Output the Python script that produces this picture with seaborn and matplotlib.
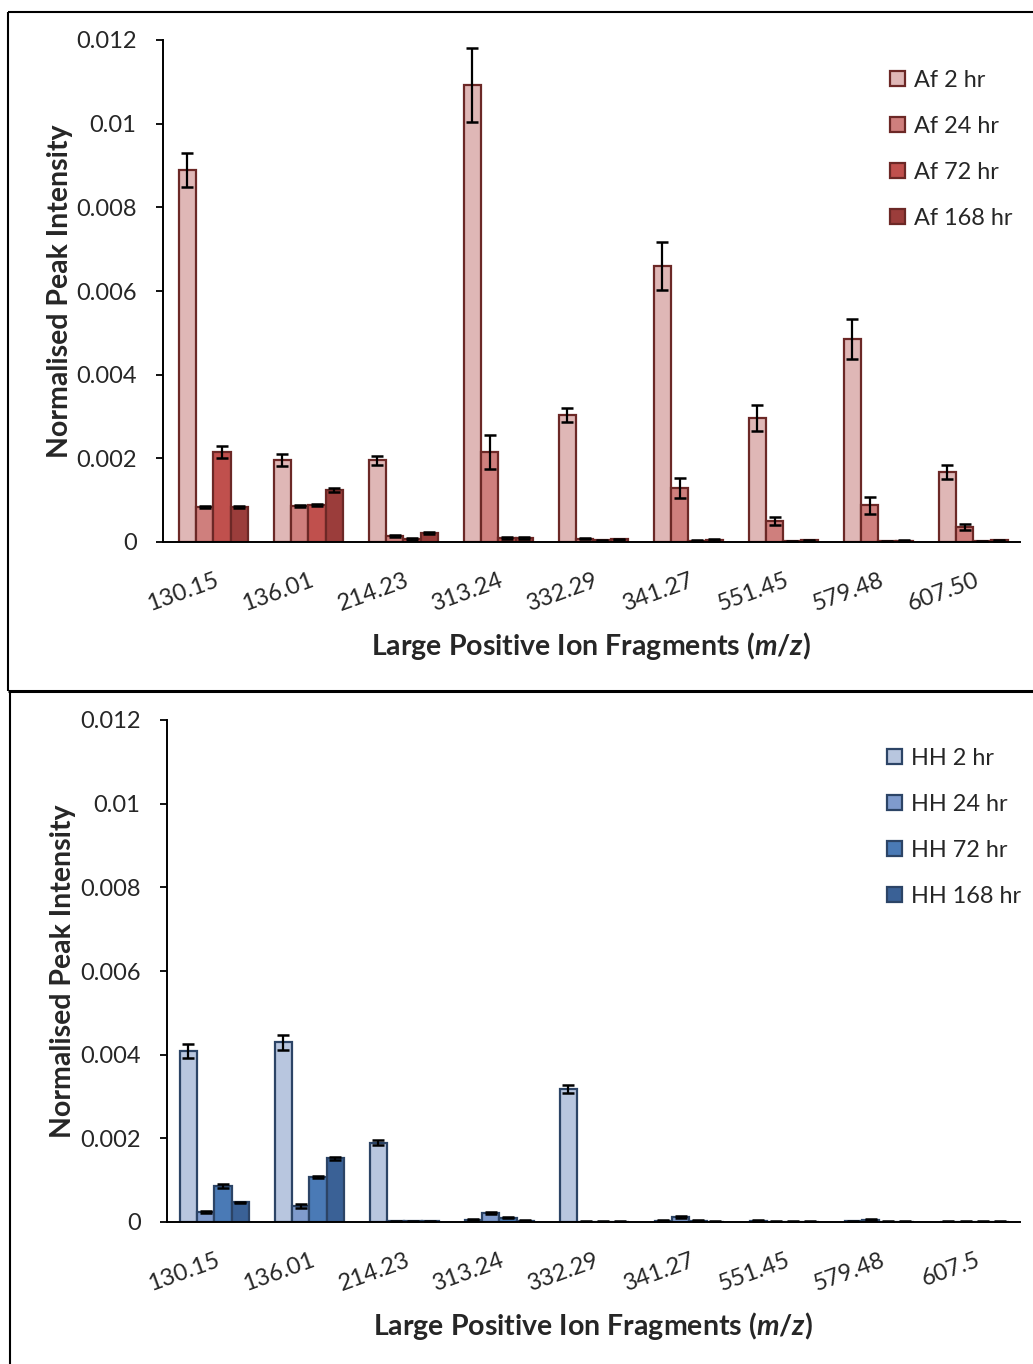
import matplotlib
matplotlib.use("Agg")
import matplotlib.pyplot as plt
from matplotlib.lines import Line2D
from matplotlib.transforms import ScaledTranslation
import numpy as np
import pandas as pd
import seaborn as sns

# ---- data -------------------------------------------------------------
fragments_af = ["130.15", "136.01", "214.23", "313.24", "332.29",
                "341.27", "551.45", "579.48", "607.50"]
fragments_hh = ["130.15", "136.01", "214.23", "313.24", "332.29",
                "341.27", "551.45", "579.48", "607.5"]

af_series = ["Af 2 hr", "Af 24 hr", "Af 72 hr", "Af 168 hr"]
hh_series = ["HH 2 hr", "HH 24 hr", "HH 72 hr", "HH 168 hr"]

af_2hr = [0.00889, 0.00196, 0.00195, 0.01092, 0.00303, 0.00660, 0.00296, 0.00485, 0.00167]
af_24hr = [0.00084, 0.00086, 0.00014, 0.00215, 0.00008, 0.00129, 0.00050, 0.00088, 0.00036]
af_72hr = [0.00215, 0.00088, 0.00007, 0.00010, 0.00004, 0.00003, 0.00002, 0.00002, 0.00002]
af_168hr = [0.00084, 0.00124, 0.00022, 0.00010, 0.00006, 0.00005, 0.00004, 0.00003, 0.00004]

af_2hr_err = [0.00040, 0.00015, 0.00010, 0.00088, 0.00017, 0.00057, 0.00031, 0.00048, 0.00016]
af_24hr_err = [0.00003, 0.00002, 0.00002, 0.00040, 0.00002, 0.00023, 0.00010, 0.00020, 0.00007]
af_72hr_err = [0.00015, 0.00002, 0.00002, 0.00002, 0.00001, 0.00001, 0.00001, 0.00001, 0.00001]
af_168hr_err = [0.00003, 0.00004, 0.00003, 0.00002, 0.00002, 0.00002, 0.00001, 0.00001, 0.00001]

hh_2hr = [0.00409, 0.00430, 0.00189, 0.00005, 0.00318, 0.00003, 0.00003, 0.00002, 0.00001]
hh_24hr = [0.00024, 0.00038, 0.00002, 0.00022, 0.00001, 0.00012, 0.00001, 0.00005, 0.00001]
hh_72hr = [0.00086, 0.00108, 0.00002, 0.00010, 0.00001, 0.00003, 0.00001, 0.00001, 0.00001]
hh_168hr = [0.00047, 0.00152, 0.00002, 0.00003, 0.00001, 0.00001, 0.00001, 0.00001, 0.00001]

hh_2hr_err = [0.00016, 0.00018, 0.00006, 0.00001, 0.00010, 0.00001, 0.00001, 0.00001, 0.00001]
hh_24hr_err = [0.00002, 0.00004, 0.00001, 0.00003, 0.00001, 0.00002, 0.00001, 0.00001, 0.00001]
hh_72hr_err = [0.00004, 0.00002, 0.00001, 0.00001, 0.00001, 0.00001, 0.00001, 0.00001, 0.00001]
hh_168hr_err = [0.00002, 0.00003, 0.00001, 0.00001, 0.00001, 0.00001, 0.00001, 0.00001, 0.00001]

y_ticks = [0, 0.002, 0.004, 0.006, 0.008, 0.010, 0.012]
y_tick_labels = ["0", "0.002", "0.004", "0.006", "0.008", "0.01", "0.012"]

af_colors = ["#dfb7b6", "#cf7f7d", "#c0504d", "#9b3d3b"]
hh_colors = ["#b8c6df", "#7f9bcd", "#4a7ab6", "#3a6196"]
af_edge = "#6c2826"
hh_edge = "#2c4466"

# ---- style ------------------------------------------------------------
sns.set_theme(style="white")
plt.rcParams["font.family"] = ["Lato", "DejaVu Sans"]
plt.rcParams["mathtext.fontset"] = "custom"
plt.rcParams["mathtext.it"] = "Lato:italic:bold"
plt.rcParams["mathtext.rm"] = "Lato:bold"
plt.rcParams["mathtext.bf"] = "Lato:bold"

TICK_FS = 17
LEG_FS = 16.9
LABEL_FS = 20.5
fig = plt.figure(figsize=(10.33, 13.64), dpi=100)
W, H = 1033.0, 1364.0


def px_axes(left, top, right, bottom):
    return fig.add_axes([left / W, 1 - bottom / H, (right - left) / W, (bottom - top) / H])


def panel(ax, fragments, series, values, errors, colors, edge, xlim,
          ylabel_x, legend_xy):
    frames = []
    for name, vals in zip(series, values):
        frames.append(pd.DataFrame({"fragment": fragments, "series": name, "value": vals}))
    df = pd.concat(frames, ignore_index=True)

    sns.barplot(data=df, x="fragment", y="value", hue="series",
                hue_order=series, order=fragments, palette=colors,
                saturation=1, width=0.73, gap=0, errorbar=None,
                edgecolor=edge, linewidth=1.6, ax=ax)

    # error bars on each bar, per series
    for cont, err in zip(ax.containers, errors):
        xs = [p.get_x() + p.get_width() / 2 for p in cont.patches]
        hs = [p.get_height() for p in cont.patches]
        ax.errorbar(xs, hs, yerr=err, fmt="none", ecolor="black",
                    elinewidth=1.6, capsize=4.5, capthick=1.8, zorder=5)

    ax.set_xlim(*xlim)
    ax.set_ylim(0, 0.012)
    ax.set_yticks(y_ticks)
    ax.set_yticklabels(y_tick_labels)
    ax.tick_params(axis="y", which="major", left=True, length=5, width=1.3,
                   direction="out", pad=14, labelsize=TICK_FS, color="black")
    ax.tick_params(axis="x", bottom=False, length=0, pad=20, labelsize=TICK_FS)
    for lab in ax.get_xticklabels():
        lab.set_rotation(20)
        lab.set_ha("right")
        lab.set_va("top")
        lab.set_rotation_mode("anchor")
        lab.set_transform(lab.get_transform() +
                          ScaledTranslation(1 / 100, 0, fig.dpi_scale_trans))

    for side in ("top", "right"):
        ax.spines[side].set_visible(False)
    for side in ("left", "bottom"):
        ax.spines[side].set_color("black")
        ax.spines[side].set_linewidth(1.4)

    ax.set_xlabel("Large Positive Ion Fragments ($\\mathit{m/z}$)",
                  fontsize=LABEL_FS, fontweight="bold")
    ax.xaxis.set_label_coords(0.5, -0.176)
    ax.xaxis.label.set_va("top")
    ax.set_ylabel("Normalised Peak Intensity", fontsize=LABEL_FS, fontweight="bold")
    ax.yaxis.set_label_coords(ylabel_x, 0.5)

    handles, labels = ax.get_legend_handles_labels()
    if ax.get_legend() is not None:
        ax.get_legend().remove()
    fig.legend(handles, labels, loc="upper left",
               bbox_to_anchor=(legend_xy[0] / W, 1 - legend_xy[1] / H),
               frameon=False, fontsize=LEG_FS, handlelength=0.63, handleheight=0.63,
               handletextpad=0.4, labelspacing=1.06, borderpad=0,
               borderaxespad=0)


ax_top = px_axes(163, 40, 1020, 542)
panel(ax_top, fragments_af, af_series,
      [af_2hr, af_24hr, af_72hr, af_168hr],
      [af_2hr_err, af_24hr_err, af_72hr_err, af_168hr_err],
      af_colors, af_edge, (-0.53, 8.49), -0.105, (890, 70))

ax_bot = px_axes(167, 720, 1020, 1222)
panel(ax_bot, fragments_hh, hh_series,
      [hh_2hr, hh_24hr, hh_72hr, hh_168hr],
      [hh_2hr_err, hh_24hr_err, hh_72hr_err, hh_168hr_err],
      hh_colors, hh_edge, (-0.5, 8.48), -0.107, (887, 748))

# ---- panel frames -----------------------------------------------------
def fline(x0, y0, x1, y1, lw):
    fig.add_artist(Line2D([x0 / W, x1 / W], [1 - y0 / H, 1 - y1 / H],
                          transform=fig.transFigure, color="black", lw=lw,
                          solid_capstyle="butt"))


fline(8, 12, 1033, 12, 1.5)
fline(8, 12, 8, 691, 1.5)
fline(8, 691, 1033, 691, 2.2)
fline(10, 691, 10, 1364, 1.5)

fig.savefig("out.png", dpi=100, facecolor="white")
